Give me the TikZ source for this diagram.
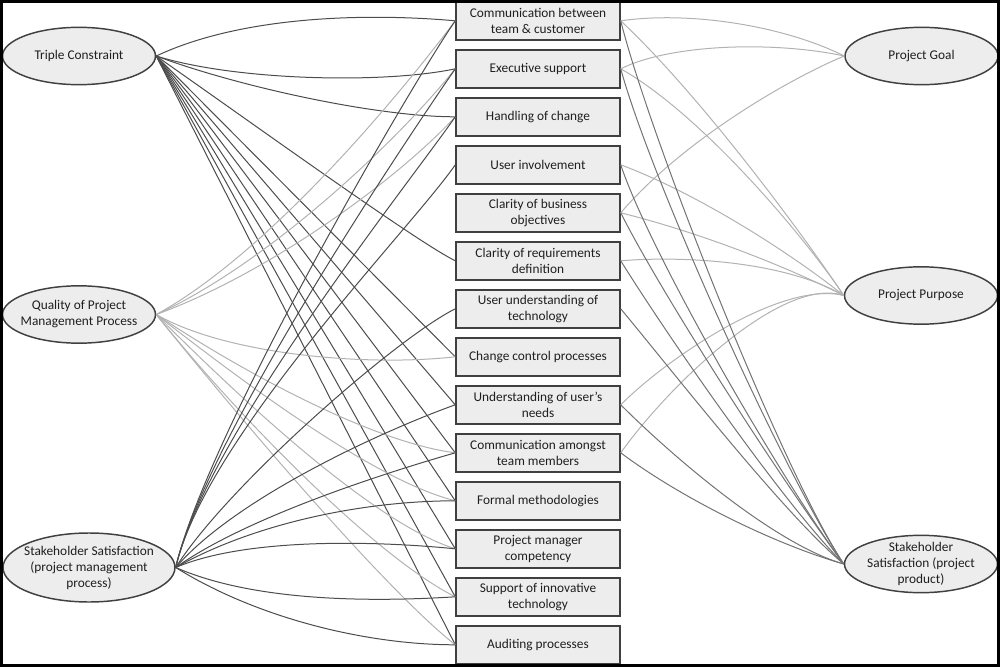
\documentclass[tikz,border=0pt]{standalone}
\usepackage{fontspec}
\setmainfont{Carlito}
\usetikzlibrary{shapes.geometric}
\begin{document}
\begin{tikzpicture}[x=0.75pt,y=-0.75pt,
  every node/.style={font=\fontsize{10}{12}\selectfont, text=black!88},
  boxnode/.style={draw=black!75, fill=black!7, line width=1.1pt, rectangle, minimum width=123pt, minimum height=28.5pt, inner sep=1pt, align=center},
  ellnode/.style={draw=black!75, fill=black!7, line width=1.1pt, ellipse, minimum width=114.75pt, minimum height=43pt, inner sep=0pt},
  darkln/.style={draw=black!70, line width=0.75pt},
  lightln/.style={draw=black!30, line width=0.75pt},
  midln/.style={draw=black!55, line width=0.75pt},
]
\useasboundingbox (0,0) rectangle (1000,667);
% ellipses
\node[ellnode, label={[align=center]center:Triple Constraint}] (tc) at (79,56) {};
\node[ellnode, label={[align=center]center:{Quality of Project\\Management Process}}] (qp) at (79,314.5) {};
\node[ellnode, minimum width=129pt, minimum height=51.75pt, label={[align=center]center:{Stakeholder Satisfaction\\(project management\\process)}}] (ss) at (89,567.5) {};
\node[ellnode, label={[align=center]center:Project Goal}] (pg) at (921.5,56) {};
\node[ellnode, label={[align=center]center:Project Purpose}] (pp) at (921,295.5) {};
\node[ellnode, label={[align=center]center:{Stakeholder\\Satisfaction (project\\product)}}] (sp) at (921,564) {};
% boxes
\node[boxnode] (b1) at (538,20.8) {Communication between\\team \& customer};
\node[boxnode] (b2) at (538,68.8) {Executive support};
\node[boxnode] (b3) at (538,116.8) {Handling of change};
\node[boxnode] (b4) at (538,164.8) {User involvement};
\node[boxnode] (b5) at (538,212.8) {Clarity of business\\objectives};
\node[boxnode] (b6) at (538,260.8) {Clarity of requirements\\definition};
\node[boxnode] (b7) at (538,308.8) {User understanding of\\technology};
\node[boxnode] (b8) at (538,356.8) {Change control processes};
\node[boxnode] (b9) at (538,404.8) {Understanding of user’s\\needs};
\node[boxnode] (b10) at (538,452.8) {Communication amongst\\team members};
\node[boxnode] (b11) at (538,500.8) {Formal methodologies};
\node[boxnode] (b12) at (538,548.8) {Project manager\\competency};
\node[boxnode] (b13) at (538,596.8) {Support of innovative\\technology};
\node[boxnode] (b14) at (538,644.8) {Auditing processes};
% Triple Constraint
\draw[darkln] (tc.east) .. controls +(85,-40) and +(-90,-8) .. (b1.west);
\draw[darkln] (tc.east) .. controls +(80,25) and +(-70,15) .. (b2.west);
\draw[darkln] (tc.east) .. controls +(80,30) and +(-80,0) .. (b3.west);
\draw[darkln] (tc.east) .. controls +(100,70) and +(-40,-20) .. (b6.west);
\foreach \i in {8,...,14} \draw[darkln] (tc.east) -- (b\i.west);
% Quality of PM process
\draw[lightln] (qp.east) .. controls +(110,-60) and +(-60,80) .. (b1.west);
\draw[lightln] (qp.east) .. controls +(110,-50) and +(-60,75) .. (b2.west);
\draw[lightln] (qp.east) .. controls +(110,-40) and +(-60,65) .. (b3.west);
\draw[lightln] (qp.east) .. controls +(70,40) and +(-90,10) .. (b8.west);
\draw[lightln] (qp.east) .. controls +(90,60) and +(-80,-10) .. (b10.west);
\draw[lightln] (qp.east) .. controls +(90,70) and +(-80,-20) .. (b11.west);
\draw[lightln] (qp.east) .. controls +(90,90) and +(-80,-25) .. (b12.west);
\draw[lightln] (qp.east) .. controls +(80,100) and +(-80,-40) .. (b13.west);
\draw[lightln] (qp.east) .. controls +(80,100) and +(-70,-55) .. (b14.west);
% Stakeholder satisfaction (pm process)
\foreach \i in {1,...,4} \draw[darkln] (ss.east) .. controls +(30,-130) and +(-45,65) .. (b\i.west);
\draw[darkln] (ss.east) .. controls +(50,-80) and +(-60,30) .. (b7.west);
\draw[darkln] (ss.east) .. controls +(60,-70) and +(-70,25) .. (b9.west);
\draw[darkln] (ss.east) .. controls +(70,-50) and +(-70,20) .. (b10.west);
\draw[darkln] (ss.east) .. controls +(80,-45) and +(-90,0) .. (b11.west);
\draw[darkln] (ss.east) .. controls +(70,-30) and +(-80,-8) .. (b12.west);
\draw[darkln] (ss.east) .. controls +(80,35) and +(-80,5) .. (b13.west);
\draw[darkln] (ss.east) .. controls +(80,50) and +(-90,0) .. (b14.west);
% Project goal
\draw[lightln] (b1.east) .. controls +(70,-10) and +(-60,-30) .. (pg.west);
\draw[lightln] (b2.east) .. controls +(50,-25) and +(-70,-15) .. (pg.west);
\draw[lightln] (b5.east) .. controls +(60,-70) and +(-60,25) .. (pg.west);
% Project purpose
\draw[lightln] (b1.east) .. controls +(80,75) and +(-40,-60) .. (pp.west);
\draw[lightln] (b2.east) .. controls +(80,45) and +(-40,-60) .. (pp.west);
\draw[lightln] (b4.east) .. controls +(80,30) and +(-50,-40) .. (pp.west);
\draw[lightln] (b5.east) .. controls +(80,20) and +(-60,-30) .. (pp.west);
\draw[lightln] (b6.east) .. controls +(60,-5) and +(-60,-35) .. (pp.west);
\draw[lightln] (b9.east) .. controls +(50,-50) and +(-60,-15) .. (pp.west);
\draw[lightln] (b10.east) .. controls +(50,-70) and +(-60,-20) .. (pp.west);
% Stakeholder satisfaction (product)
\draw[midln] (b1.east) .. controls +(30,120) and +(-60,-90) .. (sp.west);
\draw[midln] (b2.east) .. controls +(30,110) and +(-60,-90) .. (sp.west);
\draw[midln] (b4.east) .. controls +(30,90) and +(-60,-80) .. (sp.west);
\draw[midln] (b5.east) .. controls +(40,80) and +(-60,-80) .. (sp.west);
\draw[midln] (b6.east) .. controls +(50,80) and +(-60,-60) .. (sp.west);
\draw[midln] (b7.east) .. controls +(50,60) and +(-60,-50) .. (sp.west);
\draw[midln] (b9.east) .. controls +(50,50) and +(-70,-20) .. (sp.west);
\draw[midln] (b10.east) .. controls +(60,45) and +(-70,-20) .. (sp.west);
% frame
\draw[line width=2.25pt] (1.5,1.5) rectangle (998.5,665.5);
\end{tikzpicture}
\end{document}
